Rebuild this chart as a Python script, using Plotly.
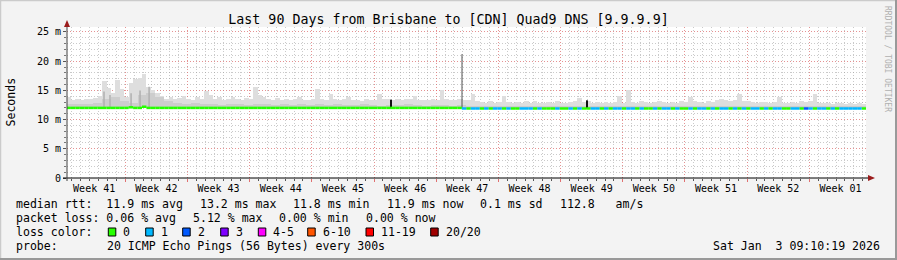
import pandas as pd
import plotly.graph_objects as go

# ---------------- data ----------------
data_start = "2025-10-05 09:10:19"      # 90 days before the graph end
x_left = "2025-10-05 10:35:00"
x_right = "2026-01-03 09:00:00"

# max ping (top of the smoke), one value per 12 hours, in ms
smoke_max_ms = [
    13.9, 13.3, 13.5, 13.4, 13.6, 13.5, 13.7, 14.0,
    16.6, 15.4, 14.6, 16.8, 15.2,
    13.8,
    16.2, 16.9, 17.1, 17.8, 15.6,
    15.0, 14.6, 14.0,
    13.6, 13.9, 13.5, 13.7, 14.1, 13.5, 13.4, 13.8, 13.6,
    14.9, 14.2, 13.6, 13.8, 13.4, 13.6, 13.9, 13.5, 13.3, 13.7,
    13.6, 15.5, 14.2, 13.8, 13.5,
    13.4, 13.7, 13.3, 13.6, 13.4, 13.5, 13.8, 13.4, 13.3, 13.6,
    15.2,
    13.5, 13.4, 14.3, 13.6, 13.4, 13.5,
    13.9, 13.3, 13.4, 13.2, 13.5, 13.3, 13.4, 14.3,
    13.5, 13.6,
    13.4, 13.5, 13.3, 13.6, 13.5, 14.0, 13.4, 13.3,
    13.4, 13.5, 13.3, 15.1, 13.6, 13.4, 13.3, 13.5, 13.4,
    13.3, 14.4, 13.1, 13.0, 12.9, 13.1, 12.9, 13.0, 14.1, 13.0,
    12.9, 13.0, 12.8, 13.1, 12.9, 13.2, 12.9, 12.8, 13.0, 12.9, 13.1, 12.9,
    12.9, 13.0, 13.1, 13.7, 13.0, 13.1, 12.9, 13.0, 12.8, 13.0, 12.9, 13.0,
    14.0, 12.9, 15.1, 13.0, 12.9, 13.1, 13.0, 12.9, 13.0, 13.2, 13.0, 12.9,
    13.0, 12.9, 13.1, 13.0, 13.8, 13.1, 13.0, 12.9, 13.1, 13.0, 13.3, 13.5,
    13.4, 13.2, 13.3, 14.4, 13.2, 13.1, 13.0, 12.9, 13.0,
    13.0, 12.9, 13.0, 13.8, 12.9, 12.8, 13.0, 12.9, 13.1, 13.0, 13.2, 14.3, 12.9, 12.8,
    12.9, 12.7, 12.8, 12.9, 12.7, 12.8, 12.7, 12.8, 12.7,
]

# median rtt, one value per 12 hours, in ms
median_ms = [
    12.0, 12.0, 12.0, 12.0, 12.0, 12.0, 12.0, 12.0, 12.0, 12.0, 12.0, 12.0, 12.0, 12.0, 12.1,
    12.0, 12.0, 12.2, 12.0, 12.0, 12.0, 12.0, 12.0, 12.0, 12.0, 12.0, 12.0, 12.0, 12.0, 12.0,
    12.0, 12.0, 12.0, 12.0, 12.0, 12.0, 12.0, 12.0, 12.0, 12.0, 12.0, 12.0, 12.0, 12.0, 12.0,
    12.0, 12.0, 12.0, 12.0, 12.0, 12.0, 12.0, 12.0, 12.0, 12.0, 12.0, 12.0, 12.0, 12.0, 12.0,
    12.0, 12.0, 12.0, 12.0, 12.0, 12.0, 12.0, 12.0, 12.0, 12.0, 12.0, 12.0, 12.0, 12.0, 12.0,
    12.0, 12.0, 12.0, 12.0, 12.0, 12.0, 12.0, 12.0, 12.0, 12.0, 12.0, 12.0, 12.0, 12.0, 11.9,
    11.9, 11.9, 11.9, 11.9, 11.9, 11.9, 11.9, 11.9, 11.9, 11.9, 11.9, 11.9, 11.9, 11.9, 11.9,
    11.9, 11.9, 11.9, 11.9, 11.9, 11.9, 11.9, 11.9, 11.9, 11.9, 11.9, 11.9, 11.9, 11.9, 11.9,
    11.9, 11.9, 11.9, 11.9, 11.9, 11.9, 11.9, 11.9, 11.9, 11.9, 11.9, 11.9, 11.9, 11.9, 11.9,
    11.9, 11.9, 11.9, 11.9, 11.9, 11.9, 11.9, 11.9, 11.9, 11.9, 11.9, 11.9, 11.9, 11.9, 11.9,
    11.9, 11.9, 11.9, 11.9, 11.9, 11.9, 11.9, 11.9, 11.9, 11.9, 11.9, 11.9, 11.9, 11.9, 11.9,
    11.9, 11.9, 11.9, 11.9, 11.9, 11.9, 11.9, 11.9, 11.9, 11.9, 11.9, 11.9, 11.9, 11.9, 11.9,
]

# lost pings per 12 hour bin (0, 1 or 2 of 20)
loss_count = [
    0, 0, 0, 0, 0, 0, 0, 0, 0, 0, 0, 0, 0, 0, 0,
    0, 0, 0, 0, 0, 0, 0, 0, 0, 0, 0, 0, 0, 0, 0,
    0, 0, 0, 0, 0, 0, 0, 0, 0, 0, 0, 0, 0, 0, 0,
    0, 0, 0, 0, 0, 0, 0, 0, 0, 0, 0, 0, 0, 0, 0,
    0, 0, 0, 0, 0, 0, 0, 0, 0, 0, 0, 0, 0, 0, 0,
    0, 0, 0, 0, 0, 0, 0, 0, 0, 0, 0, 0, 0, 0, 1,
    0, 1, 1, 0, 1, 0, 1, 1, 0, 1, 0, 0, 1, 1, 1,
    0, 1, 0, 0, 0, 1, 0, 0, 1, 0, 1, 0, 0, 1, 1,
    0, 1, 0, 1, 1, 0, 1, 1, 0, 1, 0, 0, 1, 0, 1,
    1, 0, 1, 0, 0, 1, 0, 1, 1, 0, 1, 0, 1, 1, 0,
    1, 0, 1, 0, 1, 1, 0, 1, 0, 1, 1, 0, 0, 1, 1,
    0, 2, 1, 0, 1, 1, 0, 1, 0, 1, 1, 1, 1, 1, 0,
]

# darker inner smoke, one value per day, in ms
smoke_mid_ms = [
    12.6, 12.7, 12.6, 12.8, 13.6, 13.9, 13.2, 12.9, 14.2, 14.6, 13.8, 13.1, 12.8, 12.7, 12.8, 12.6,
    12.6, 12.5, 12.6, 12.6, 12.5, 12.7, 12.6, 12.5, 12.6, 12.5, 12.6, 12.5, 12.6, 12.5, 12.6,
    12.5, 12.5, 12.6, 12.5, 12.4, 12.5, 12.5, 12.6, 12.5, 12.4, 12.5, 12.5, 12.4, 12.5, 12.4,
    12.4, 12.3, 12.4, 12.3, 12.4, 12.3, 12.4, 12.4, 12.3, 12.4, 12.3, 12.4, 12.3, 12.4, 12.4,
    12.3, 12.4, 12.3, 12.4, 12.3, 12.4, 12.4, 12.3, 12.4, 12.3, 12.4, 12.3, 12.4, 12.4, 12.3,
    12.4, 12.3, 12.4, 12.3, 12.4, 12.4, 12.3, 12.4, 12.3, 12.4, 12.3, 12.4, 12.3, 12.4,
]

# isolated dark smoke events
dark_spike_times = ["2025-11-10 21:50", "2025-12-02 23:15"]
dark_spike_top_ms = [13.4, 13.3]
thin_spike_times = ["2025-11-18 21:40"]
thin_spike_top_ms = [21.2]
streak_times = ["2025-10-09 14:30", "2025-10-10 06:45", "2025-10-12 15:40",
                "2025-10-13 15:55", "2025-10-14 16:20"]
streak_top_ms = [14.8, 14.2, 14.5, 15.0, 15.6]

week_starts = ["2025-10-05", "2025-10-12", "2025-10-19", "2025-10-26", "2025-11-02",
               "2025-11-09", "2025-11-16", "2025-11-23", "2025-11-30", "2025-12-07",
               "2025-12-14", "2025-12-21", "2025-12-28"]
week_labels = ["Week 41", "Week 42", "Week 43", "Week 44", "Week 45", "Week 46", "Week 47",
               "Week 48", "Week 49", "Week 50", "Week 51", "Week 52", "Week 01"]

y_tick_vals = [0, 5, 10, 15, 20, 25]
y_tick_text = ["0", "5 m", "10 m", "15 m", "20 m", "25 m"]

loss_labels = ["0", "1", "2", "3", "4-5", "6-10", "11-19", "20/20"]

assert len(smoke_max_ms) == 180 and len(median_ms) == 180 and len(loss_count) == 180
assert len(smoke_mid_ms) == 90

# ---------------- styles ----------------
loss_colors = ["#26ff00", "#00b8ff", "#0059ff", "#7e00ff", "#ff00ff", "#ff5500", "#ff0000", "#a00000"]
FONT = "DejaVu Sans Mono"
W, H = 897, 260
L, R, T, B = 67, 31, 27, 82
PW, PH = W - L - R, H - T - B


def px(x):
    return (x - L) / PW


def py(y):
    return (H - B - y) / PH


bin_edges = pd.date_range(pd.Timestamp(data_start), periods=len(smoke_max_ms) + 1, freq="12h")
bin_centers = bin_edges[:-1] + pd.Timedelta(hours=6)
day_centers = pd.date_range(pd.Timestamp(data_start), periods=len(smoke_mid_ms), freq="D") + pd.Timedelta(hours=12)

fig = go.Figure()

base12 = [m - 0.1 for m in median_ms]
fig.add_trace(go.Bar(
    x=bin_centers, y=[s - b for s, b in zip(smoke_max_ms, base12)], base=base12,
    width=12 * 3600 * 1000 * 1.02, marker=dict(color="#dedede", line=dict(width=0)),
    hoverinfo="skip", showlegend=False))

base_day = [median_ms[2 * i] - 0.1 for i in range(len(smoke_mid_ms))]
fig.add_trace(go.Bar(
    x=day_centers, y=[s - b for s, b in zip(smoke_mid_ms, base_day)], base=base_day,
    width=24 * 3600 * 1000 * 1.01, marker=dict(color="#cdcdcd", line=dict(width=0)),
    hoverinfo="skip", showlegend=False))


def vsegments(times, tops, base):
    xs, ys = [], []
    for t, v in zip(times, tops):
        xs += [t, t, None]
        ys += [base, v, None]
    return xs, ys


xs, ys = vsegments(streak_times, streak_top_ms, 12.0)
fig.add_trace(go.Scatter(x=xs, y=ys, mode="lines", line=dict(color="#b0b0b0", width=1.5),
                         hoverinfo="skip", showlegend=False))
xs, ys = vsegments(thin_spike_times, thin_spike_top_ms, 11.9)
fig.add_trace(go.Scatter(x=xs, y=ys, mode="lines", line=dict(color="#505050", width=1),
                         hoverinfo="skip", showlegend=False))
xs, ys = vsegments(dark_spike_times, dark_spike_top_ms, 11.9)
fig.add_trace(go.Scatter(x=xs, y=ys, mode="lines", line=dict(color="#111111", width=2),
                         hoverinfo="skip", showlegend=False))

# median line coloured by loss
for code in sorted(set(loss_count)):
    xs, ys = [], []
    for i, c in enumerate(loss_count):
        if c == code:
            xs += [bin_edges[i], bin_edges[i + 1], None]
            ys += [median_ms[i], median_ms[i], None]
    fig.add_trace(go.Scatter(x=xs, y=ys, mode="lines",
                             line=dict(color=loss_colors[code], width=2.5),
                             hoverinfo="skip", showlegend=False))

# invisible trace to carry the grid axis
fig.add_trace(go.Scatter(x=[x_left], y=[0], xaxis="x2", mode="markers",
                         marker=dict(opacity=0), hoverinfo="skip", showlegend=False))

week_mid = [pd.Timestamp(w) + pd.Timedelta(hours=84) for w in week_starts]

fig.update_layout(
    width=W, height=H, margin=dict(l=L, r=R, t=T, b=B),
    paper_bgcolor="#f3f3f3", plot_bgcolor="#ffffff",
    barmode="overlay", bargap=0, hovermode=False,
    font=dict(family=FONT, color="#000000"),
    title=dict(text="Last 90 Days from Brisbane to [CDN] Quad9 DNS [9.9.9.9]",
               x=0.5, xref="container", xanchor="center",
               y=1 - 19 / H, yref="container", yanchor="middle",
               font=dict(family=FONT, size=13.3, color="#000000")),
    xaxis=dict(type="date", range=[x_left, x_right], tickmode="array",
               tickvals=week_mid, ticktext=week_labels, showgrid=False, zeroline=False,
               ticks="", ticklabelstandoff=3, showline=False,
               tickfont=dict(family=FONT, size=10, color="#000000")),
    xaxis2=dict(type="date", range=[x_left, x_right], overlaying="x", anchor="y", side="bottom",
                tickmode="array", tickvals=week_starts, showticklabels=False,
                showgrid=True, gridcolor="rgba(255,90,90,0.5)", griddash="1px,2px", gridwidth=1,
                ticks="outside", ticklen=3, tickcolor="#e07070", zeroline=False, showline=False,
                minor=dict(tickmode="linear", tick0="2025-10-05", dtick=86400000,
                           showgrid=True, gridcolor="rgba(150,150,150,0.5)", griddash="1px,2px",
                           gridwidth=1, ticks="outside", ticklen=2, tickcolor="#555555")),
    yaxis=dict(range=[0, 25.85], tickmode="array", tickvals=y_tick_vals, ticktext=y_tick_text,
               showgrid=True, gridcolor="rgba(255,90,90,0.5)", griddash="1px,2px", gridwidth=1,
               zeroline=False, showline=False, ticks="outside", ticklen=3, tickcolor="#555555",
               tickfont=dict(family=FONT, size=10, color="#000000"),
               minor=dict(tickmode="linear", tick0=0, dtick=1, showgrid=True,
                          gridcolor="rgba(150,150,150,0.5)", griddash="1px,2px", gridwidth=1,
                          ticks="outside", ticklen=2, tickcolor="#777777")),
)

shapes = []
# frame
shapes.append(dict(type="line", xref="paper", yref="paper", x0=px(0), x1=px(W), y0=py(0.5), y1=py(0.5),
                   line=dict(color="#cbcbcb", width=1.5)))
shapes.append(dict(type="line", xref="paper", yref="paper", x0=px(0.5), x1=px(0.5), y0=py(0), y1=py(H),
                   line=dict(color="#cbcbcb", width=1.5)))
shapes.append(dict(type="line", xref="paper", yref="paper", x0=px(0), x1=px(W), y0=py(H - 1), y1=py(H - 1),
                   line=dict(color="#999999", width=2)))
shapes.append(dict(type="line", xref="paper", yref="paper", x0=px(W - 1), x1=px(W - 1), y0=py(0), y1=py(H),
                   line=dict(color="#999999", width=2)))
# axes with arrows
shapes.append(dict(type="line", xref="paper", yref="paper", x0=px(63), x1=px(870), y0=py(178), y1=py(178),
                   line=dict(color="#000000", width=1), layer="above"))
shapes.append(dict(type="line", xref="paper", yref="paper", x0=px(67), x1=px(67), y0=py(181), y1=py(24),
                   line=dict(color="#404040", width=1), layer="above"))
shapes.append(dict(type="path", xref="paper", yref="paper",
                   path=f"M {px(64)} {py(27)} L {px(70)} {py(27)} L {px(67)} {py(20)} Z",
                   fillcolor="#9b1c1c", line=dict(width=0), layer="above"))
shapes.append(dict(type="path", xref="paper", yref="paper",
                   path=f"M {px(868)} {py(175)} L {px(868)} {py(181)} L {px(875)} {py(178)} Z",
                   fillcolor="#9b1c1c", line=dict(width=0), layer="above"))

annotations = []


def ann(text, x, y, size=11.55, xanchor="left", color="#000000", angle=0):
    annotations.append(dict(text=text, x=px(x), y=py(y), xref="paper", yref="paper",
                            xanchor=xanchor, yanchor="middle", showarrow=False, textangle=angle,
                            borderpad=0, borderwidth=0,
                            font=dict(family=FONT, size=size, color=color)))


NB = "\u00a0"
ann("Seconds", 10, 102.5, size=11.55, xanchor="center", angle=-90)
ann("RRDTOOL / TOBI OETIKER", 888, 59, size=8, xanchor="center", color="#b0b0b0", angle=90)

y1, y2, y3, y4 = 204, 218, 232, 246
ann("median rtt:" + NB * 2 + "11.9 ms avg", 16, y1)
ann("13.2 ms max", 200, y1)
ann("11.8 ms min", 293.3, y1)
ann("11.9 ms now", 386.8, y1)
ann("0.1 ms sd", 480.3, y1)
ann("112.8" + NB * 3 + "am/s", 560, y1)

ann("packet loss: 0.06 % avg", 16, y2)
ann("5.12 % max", 192.9, y2)
ann("0.00 % min", 279.4, y2)
ann("0.00 % now", 365.9, y2)

ann("loss color:", 16, y3)
box_x = [108.3, 145.7, 182.7, 220.7, 258.3, 307.7, 366.0, 430.7]
for bx, lab, col in zip(box_x, loss_labels, loss_colors):
    shapes.append(dict(type="rect", xref="paper", yref="paper", x0=px(bx), x1=px(bx + 7.5),
                       y0=py(y3 + 4), y1=py(y3 - 4), fillcolor=col,
                       line=dict(color="#000000", width=1)))
    ann(lab, bx + 15, y3)

ann("probe:", 16, y4)
ann("20 ICMP Echo Pings (56 Bytes) every 300s", 107.3, y4)
ann("Sat Jan" + NB * 2 + "3 09:10:19 2026", 880, y4, xanchor="right")

fig.update_layout(shapes=shapes, annotations=annotations)
fig.write_html("out.html")
